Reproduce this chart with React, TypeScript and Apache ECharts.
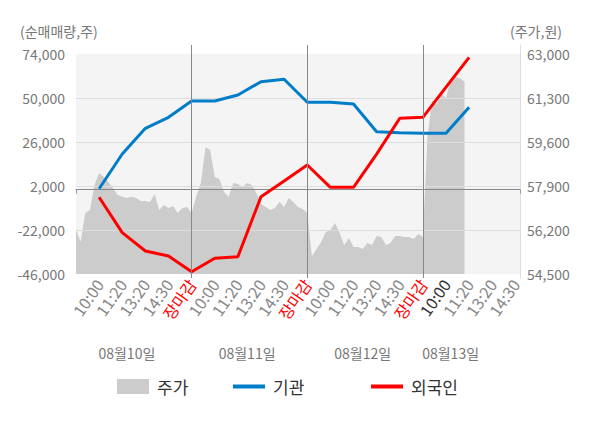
import React, { useEffect, useRef } from 'react';
import * as echarts from 'echarts';

// ---- data ----
const dayNames = ['08월10일', '08월11일', '08월12일', '08월13일'];
const tickNames = ['10:00', '11:20', '13:20', '14:30', '장마감'];

// price (주가, 원) sampled 5 slots per tick interval, from day-1 open
const priceArea = [
  56200, 55750, 56860, 56970, 57940, 58400, 58250, 58050, 57820, 57550, 57480, 57440, 57480,
  57440, 57320, 57320, 57280, 57590, 56970, 57170, 57050, 57130, 56860, 57050, 57090, 56860,
  57490, 58020, 59400, 59300, 58250, 58170, 57670, 57480, 58020, 57980, 57860, 58020, 57940,
  57630, 57200, 57090, 56970, 57050, 57280, 57090, 57440, 57280, 57090, 57010, 56860,
  55200, 55470, 55740, 56120, 56200, 56470, 56080, 55620, 55890, 55540, 55540, 55470, 55700,
  55620, 55970, 55930, 55620, 55700, 55970, 55970, 55930, 55930, 55850, 56050, 55930,
  59800, 61220, 61070, 61480, 61290, 62000, 62120, 62060, 61930,
];

// net buying (순매매량, 주) at each tick label time
const instNet = [
  500, 19460, 33470, 39470, 48370,
  48370, 51640, 58890, 60200, 47660,
  47660, 46730, 31620, 31070, 30750,
  30750, 44930,
];
const foreignNet = [
  -4160, -23470, -33450, -36180, -44740,
  -37430, -36560, -3830, 4730, 13460,
  1290, 1290, 19400, 38930, 39470,
  55890, 72200,
];

const leftMin = -46000;
const leftMax = 74000;
const leftStep = 24000;
const rightMin = 54500;
const rightMax = 63000;
const rightStep = 1700;

// ---- axis structure ----
const SUB = 5;
const DAY = SUB * tickNames.length;
const TOTAL = 96;
const categories = Array.from({ length: TOTAL + 1 }, (_, i) => String(i));
const tickLabelAt = (i: number) =>
  i > 0 && i % SUB === 0 && i < TOTAL ? tickNames[(i / SUB - 1) % tickNames.length] : '';
const dateSlots = [11, 37, 62, 81];
const lineData = (vals: number[]) =>
  vals.map((v, k) => [Math.floor(k / tickNames.length) * DAY + ((k % tickNames.length) + 1) * SUB, v]);

const FONT = "'Noto Sans CJK KR', 'Noto Sans', sans-serif";
const BLUE = '#007dc8';
const RED = '#ff0000';
const GRAY = '#777';

export default function App() {
  const ref = useRef<HTMLDivElement>(null);
  useEffect(() => {
    document.body.style.margin = '0';
    if (!ref.current) return;
    const chart = echarts.init(ref.current, null, { renderer: 'svg' });
    const legendBase = {
      top: 373,
      selectedMode: false,
      icon: 'rect',
      itemWidth: 32,
      textStyle: { fontSize: 17, color: '#333', fontFamily: FONT, padding: [0, 0, 0, 3] },
    };
    chart.setOption({
      animation: false,
      textStyle: { fontFamily: FONT },
      title: [
        {
          text: '(순매매량,주)', left: 20, top: 24, padding: 0,
          textStyle: { fontSize: 14, color: GRAY, fontWeight: 'normal', fontFamily: FONT },
        },
        {
          text: '(주가,원)', right: 38, top: 24, padding: 0,
          textStyle: { fontSize: 14, color: GRAY, fontWeight: 'normal', fontFamily: FONT },
        },
      ],
      legend: [
        { ...legendBase, data: ['주가'], left: 112, itemHeight: 15 },
        { ...legendBase, data: ['기관'], left: 228, itemHeight: 4 },
        { ...legendBase, data: ['외국인'], left: 366, itemHeight: 4 },
      ],
      grid: [
        { left: 76, right: 80, top: 54, bottom: 154, show: true, backgroundColor: '#f4f4f4', borderWidth: 0 },
        { left: 76, right: 80, top: 45, bottom: 150, show: false },
      ],
      xAxis: [
        {
          gridIndex: 0, type: 'category', data: categories, boundaryGap: false, z: 3,
          axisLine: { lineStyle: { color: '#999' } },
          axisTick: {
            interval: (i: number) => i % DAY === 0 || i === TOTAL,
            length: 4, lineStyle: { color: '#999' },
          },
          axisLabel: {
            interval: (i: number) => tickLabelAt(i) !== '',
            formatter: (v: string) => tickLabelAt(Number(v)),
            rotate: 55, fontSize: 16, margin: 7, fontFamily: FONT,
            color: (v: string) => {
              const i = Number(v);
              if (tickLabelAt(i) === '장마감') return RED;
              if (i === 3 * DAY + SUB) return '#333';
              return '#888';
            },
          },
          splitLine: { show: false },
        },
        {
          gridIndex: 0, type: 'category', data: categories, boundaryGap: false,
          position: 'bottom', offset: 70,
          axisLine: { show: false }, axisTick: { show: false },
          axisLabel: {
            interval: (i: number) => dateSlots.includes(i),
            formatter: (v: string) => dayNames[dateSlots.indexOf(Number(v))] ?? '',
            fontSize: 14, color: GRAY, margin: 2, fontFamily: FONT,
          },
          splitLine: { show: false },
        },
        {
          gridIndex: 1, type: 'category', data: categories, boundaryGap: false, z: 10,
          axisLine: { show: false }, axisTick: { show: false }, axisLabel: { show: false },
          splitLine: {
            show: true,
            interval: (i: number) => i > 0 && i < TOTAL && i % DAY === 0,
            lineStyle: { color: '#888', width: 1 },
          },
        },
      ],
      yAxis: [
        {
          gridIndex: 0, type: 'value', min: leftMin, max: leftMax, interval: leftStep,
          position: 'left', z: 3,
          axisLine: { show: false }, axisTick: { show: false },
          axisLabel: { fontSize: 14, color: GRAY, margin: 11, fontFamily: FONT },
          splitLine: { show: true, showMaxLine: false, showMinLine: false, lineStyle: { color: '#dddddd' } },
        },
        {
          gridIndex: 0, type: 'value', min: rightMin, max: rightMax, interval: rightStep,
          position: 'right',
          axisLine: { show: false }, axisTick: { show: false },
          axisLabel: { fontSize: 14, color: GRAY, margin: 7, fontFamily: FONT },
          splitLine: { show: false },
        },
        {
          gridIndex: 1, type: 'value', position: 'right',
          axisLine: { show: true, lineStyle: { color: '#dddddd' } },
          axisTick: { show: false }, axisLabel: { show: false }, splitLine: { show: false },
        },
      ],
      series: [
        {
          name: '주가', type: 'line', xAxisIndex: 0, yAxisIndex: 1, data: priceArea,
          symbol: 'none', z: 1, silent: true,
          lineStyle: { width: 0, color: '#cccccc' },
          itemStyle: { color: '#cccccc' },
          areaStyle: { color: '#cccccc', opacity: 1, origin: 'start' },
        },
        {
          name: '기관', type: 'line', xAxisIndex: 0, yAxisIndex: 0, data: lineData(instNet),
          symbol: 'none', z: 5,
          lineStyle: { width: 3, color: BLUE }, itemStyle: { color: BLUE },
          markLine: {
            silent: true, symbol: 'none', label: { show: false },
            lineStyle: { color: '#888', width: 1, type: 'solid' },
            data: [{ yAxis: 0 }],
          },
        },
        {
          name: '외국인', type: 'line', xAxisIndex: 0, yAxisIndex: 0, data: lineData(foreignNet),
          symbol: 'none', z: 6,
          lineStyle: { width: 3, color: RED }, itemStyle: { color: RED },
        },
      ],
    });
    return () => chart.dispose();
  }, []);
  return <div ref={ref} style={{ width: 600, height: 428 }} />;
}
